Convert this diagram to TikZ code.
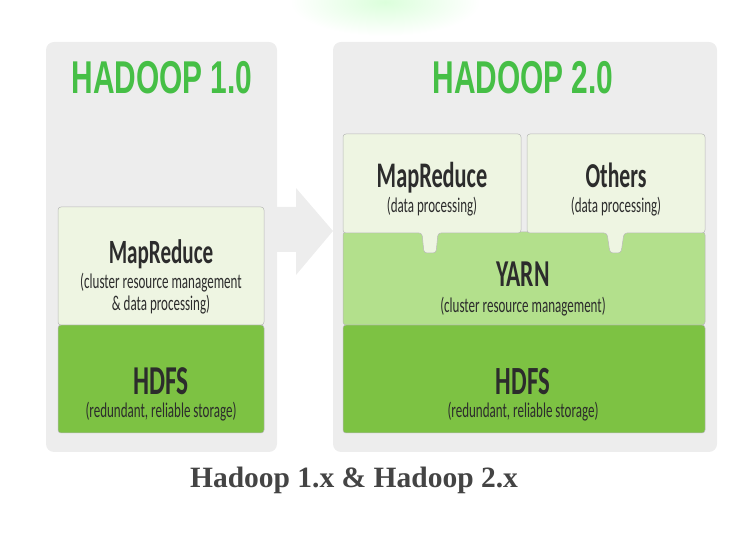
\documentclass[tikz,border=0pt]{standalone}
\usepackage{fontspec}
\usepackage{graphicx}
\setmainfont{Carlito}
\newfontfamily\headfont{Liberation Sans}
\newfontfamily\capfont{Liberation Serif}
\usetikzlibrary{positioning}
\definecolor{panelgray}{HTML}{EDEDED}
\definecolor{paleleaf}{HTML}{EEF5E2}
\definecolor{yarngreen}{HTML}{B3E08C}
\definecolor{hdfsgreen}{HTML}{7DC243}
\definecolor{titlegreen}{HTML}{46BF46}
\definecolor{inkgray}{HTML}{2C2C2C}
\definecolor{captiongray}{HTML}{444444}
\newcommand{\narrow}[2][0.62]{\scalebox{#1}[1]{#2}}
\tikzset{
panel/.style = {fill = panelgray, draw = none, rounded corners = 8pt, inner sep = 0pt},
layer/.style = {draw = black!28, line width = 0.5pt, rounded corners = 3pt, inner sep = 0pt},
title/.style = {anchor = base, text = titlegreen, font = \headfont\bfseries\fontsize{46}{46}\selectfont},
head/.style = {anchor = base, text = inkgray, font = \bfseries\fontsize{#1}{#1}\selectfont},
sub/.style = {anchor = base, text = inkgray, font = \fontsize{21}{21}\selectfont},
}

\begin{document}
\begin{tikzpicture}[x = 1pt, y = -1pt]
      \useasboundingbox (0, 0) rectangle (745, 534);
      % faint glow at the top edge
      \shade[inner color = green!14, outer color = white] (385, 2) ellipse (95 and 34);
      % arrow between the two panels
      \fill[panelgray] (270, 207) -- (296, 207) -- (296, 188) -- (333, 231) -- (296, 275) -- (296, 252) -- (270, 252) -- cycle;
      \node[panel, minimum width = 231pt, minimum height = 410pt] (v1) at (161.5, 247) {};
      \node[panel, minimum width = 384pt, minimum height = 410pt] (v2) at (525, 247) {};
      \node[title] (t1) at (162, 94) {\narrow[0.65]{HADOOP 1.0}};
      \node[title] (t2) at (523, 94) {\narrow[0.65]{HADOOP 2.0}};
      % Hadoop 1.0 stack
      \node[layer, fill = hdfsgreen, minimum width = 206pt, minimum height = 108pt] (hdfs1) at (161, 379) {};
      \node[layer, fill = paleleaf, minimum width = 206pt, minimum height = 118pt] (mr1) at (161, 266) {};
      \node[head = 34] (mr1name) at (161, 264) {\narrow{MapReduce}};
      \node[sub] (mr1notea) at (161, 289) {\narrow{(cluster resource management}};
      \node[sub] (mr1noteb) at (161, 311) {\narrow{\& data processing)}};
      \node[head = 41] (hdfs1name) at (161, 395) {\narrow{HDFS}};
      \node[sub] (hdfs1note) at (161, 418) {\narrow{(redundant, reliable storage)}};
      % Hadoop 2.0 stack
      \node[layer, fill = hdfsgreen, minimum width = 362pt, minimum height = 108pt] (hdfs2) at (524, 379) {};
      \node[layer, fill = yarngreen, minimum width = 362pt, minimum height = 93pt] (yarn) at (524, 278.5) {};
      % engines sitting on YARN, each with a small tab
      \draw[layer, fill = paleleaf] (343, 134) -- (521, 134) -- (521, 233) -- (438, 233) -- (436, 253) -- (424, 253) -- (422, 233) -- (343, 233) -- cycle;
      \draw[layer, fill = paleleaf] (527, 134) -- (705, 134) -- (705, 233) -- (624, 233) -- (621, 253) -- (610, 253) -- (607, 233) -- (527, 233) -- cycle;
      \node[head = 36] (mr2name) at (432, 188) {\narrow{MapReduce}};
      \node[sub] (mr2note) at (432, 213) {\narrow{(data processing)}};
      \node[head = 35] (othersname) at (616, 188) {\narrow{Others}};
      \node[sub] (othersnote) at (616, 213) {\narrow{(data processing)}};
      \node[head = 38] (yarnname) at (523, 287) {\narrow{YARN}};
      \node[sub] (yarnnote) at (523, 313) {\narrow{(cluster resource management)}};
      \node[head = 40] (hdfs2name) at (523, 395) {\narrow{HDFS}};
      \node[sub] (hdfs2note) at (523, 418) {\narrow{(redundant, reliable storage)}};
      % caption
      \node[anchor = base, text = captiongray, font = \capfont\bfseries\fontsize{29.5}{30}\selectfont] (caption) at (354, 488) {Hadoop 1.x \& Hadoop 2.x};
\end{tikzpicture}
\end{document}
